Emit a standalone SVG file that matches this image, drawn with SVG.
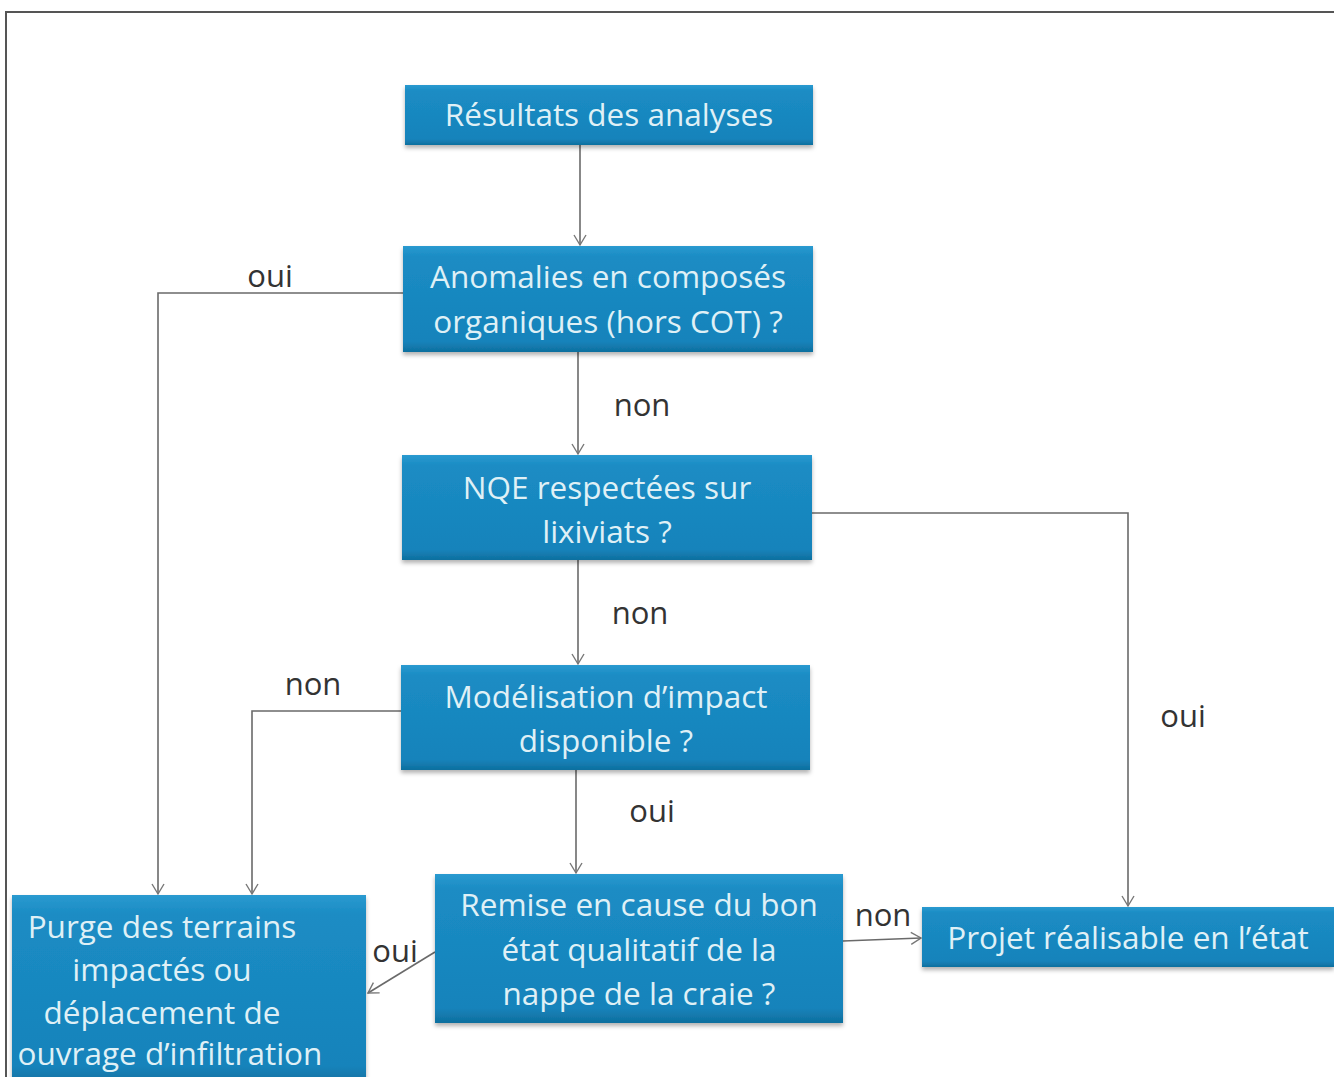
<svg xmlns="http://www.w3.org/2000/svg" width="1334" height="1077" viewBox="0 0 1334 1077">
<defs>
<linearGradient id="g" x1="0" y1="0" x2="0" y2="1">
<stop offset="0" stop-color="#2a9ad0"/>
<stop offset="0.1" stop-color="#1b8cc4"/>
<stop offset="0.9" stop-color="#1683bb"/>
<stop offset="1" stop-color="#0f6f9e"/>
</linearGradient>
<filter id="sh" x="-5%" y="-5%" width="110%" height="120%">
<feDropShadow dx="0" dy="3" stdDeviation="2" flood-color="#000" flood-opacity="0.3"/>
</filter>
<marker id="a" markerWidth="14" markerHeight="14" refX="11" refY="7" orient="auto" markerUnits="userSpaceOnUse">
<path d="M1,1 L11,7 L1,13" fill="none" stroke="#777" stroke-width="1.4"/>
</marker>
</defs>
<style>
.box{fill:url(#g);filter:url(#sh)}
.t{font-family:"Open Sans","Liberation Sans",sans-serif;font-size:31.5px;fill:#dff0f6;text-anchor:middle}
.lbl{font-family:"Open Sans","Liberation Sans",sans-serif;font-size:31px;fill:#333;text-anchor:middle}
.c{fill:none;stroke:#6a6a6a;stroke-width:1.6;marker-end:url(#a)}
</style>
<rect width="1334" height="1077" fill="#fff"/>
<path d="M6,1077 L6,12 L1334,12" fill="none" stroke="#555" stroke-width="2"/>
<g id="connectors">
<path class="c" d="M580,145 L580,245"/>
<path class="c" d="M403,293 L158,293 L158,894"/>
<path class="c" d="M578,352 L578,454"/>
<path class="c" d="M812,513 L1128,513 L1128,906"/>
<path class="c" d="M578,560 L578,664"/>
<path class="c" d="M401,711 L252,711 L252,894"/>
<path class="c" d="M576,770 L576,873"/>
<path class="c" d="M843,941 L921,938"/>
<path class="c" d="M435,952 L368,993"/>
<text class="lbl" x="270" y="287">oui</text>
<text class="lbl" x="642" y="416">non</text>
<text class="lbl" x="640" y="624">non</text>
<text class="lbl" x="313" y="695">non</text>
<text class="lbl" x="652" y="822">oui</text>
<text class="lbl" x="1183" y="727">oui</text>
<text class="lbl" x="883" y="926">non</text>
<text class="lbl" x="395" y="962">oui</text>
</g>
<g id="n1"><rect class="box" x="405" y="85" width="408" height="60"/><text class="t" x="609" y="126">Résultats des analyses</text></g>
<g id="n2"><rect class="box" x="403" y="246" width="410" height="106"/><text class="t" x="608" y="288">Anomalies en composés</text><text class="t" x="608" y="333">organiques (hors COT) ?</text></g>
<g id="n3"><rect class="box" x="402" y="455" width="410" height="105"/><text class="t" x="607" y="499">NQE respectées sur</text><text class="t" x="607" y="543">lixiviats ?</text></g>
<g id="n4"><rect class="box" x="401" y="665" width="409" height="105"/><text class="t" x="606" y="708">Modélisation d’impact</text><text class="t" x="606" y="752">disponible ?</text></g>
<g id="n5"><rect class="box" x="435" y="874" width="408" height="149"/><text class="t" x="639" y="916">Remise en cause du bon</text><text class="t" x="639" y="961">état qualitatif de la</text><text class="t" x="639" y="1005">nappe de la craie ?</text></g>
<g id="n6"><rect class="box" x="922" y="907" width="412" height="60"/><text class="t" x="1128" y="949">Projet réalisable en l’état</text></g>
<g id="n7"><rect class="box" x="12" y="895" width="354" height="190"/><text class="t" x="162" y="938">Purge des terrains</text><text class="t" x="162" y="981">impactés ou</text><text class="t" x="162" y="1024">déplacement de</text><text class="t" x="170" y="1065">ouvrage d’infiltration</text></g>
</svg>
